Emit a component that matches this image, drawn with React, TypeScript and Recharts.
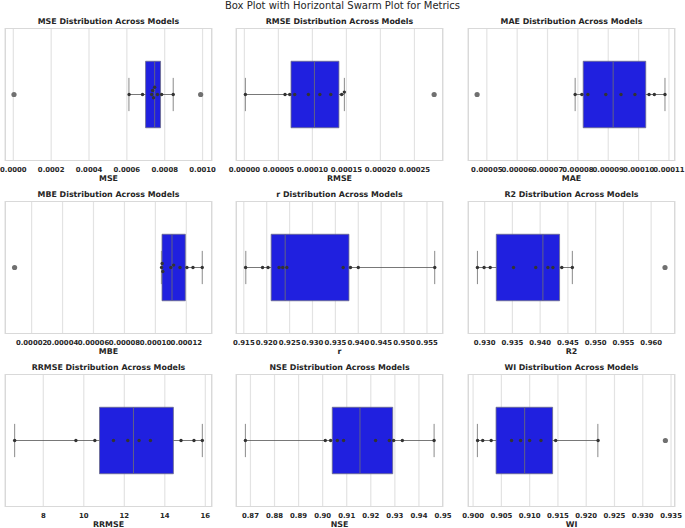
import { ComposedChart, Scatter, XAxis, YAxis, CartesianGrid, ReferenceArea, ReferenceLine } from 'recharts';

const metrics = ['MSE', 'RMSE', 'MAE', 'MBE', 'r', 'R2', 'RRMSE', 'NSE', 'WI'];

const domains: [number, number][] = [
  [-0.000044, 0.00105],
  [-0.0000123, 0.000292],
  [0.0000438, 0.000112],
  [0.0000028, 0.0001366],
  [0.9133, 0.9585],
  [0.927, 0.9643],
  [6.11, 16.33],
  [0.864, 0.95],
  [0.8991, 0.9357],
];

const tickValues: number[][] = [
  [0, 0.0002, 0.0004, 0.0006, 0.0008, 0.001],
  [0, 0.00005, 0.0001, 0.00015, 0.0002, 0.00025],
  [0.00005, 0.00006, 0.00007, 0.00008, 0.00009, 0.0001, 0.00011],
  [0.00002, 0.00004, 0.00006, 0.00008, 0.0001, 0.00012],
  [0.915, 0.92, 0.925, 0.93, 0.935, 0.94, 0.945, 0.95, 0.955],
  [0.93, 0.935, 0.94, 0.945, 0.95, 0.955, 0.96],
  [8, 10, 12, 14, 16],
  [0.87, 0.88, 0.89, 0.9, 0.91, 0.92, 0.93, 0.94, 0.95],
  [0.9, 0.905, 0.91, 0.915, 0.92, 0.925, 0.93, 0.935],
];

const tickDecimals = [4, 5, 5, 5, 3, 3, 0, 2, 3];

// box statistics
const q1 = [0.000699, 0.0000686, 0.00008176, 0.0001043, 0.92098, 0.9321, 10.776, 0.904, 0.90406];
const medians = [0.000747, 0.000103, 0.00009162, 0.00011075, 0.92404, 0.9405, 12.452, 0.9155, 0.90912];
const q3 = [0.000778, 0.000139, 0.00010236, 0.00011935, 0.93796, 0.9435, 14.423, 0.9291, 0.91406];
const whiskerLow = [0.000611, 0.0000015, 0.0000791, 0.0001039, 0.91544, 0.9287, 6.587, 0.8679, 0.90076];
const whiskerHigh = [0.000845, 0.000147, 0.0001087, 0.0001303, 0.95669, 0.9458, 15.852, 0.9463, 0.92206];

const mseValues = [0.000612, 0.000683, 0.000731, 0.000736, 0.000741, 0.000747, 0.000762, 0.000784, 0.000845];
const rmseValues = [0.0000015, 0.0000598, 0.0000667, 0.000074, 0.0000941, 0.000111, 0.000127, 0.000143, 0.000147];
const maeValues = [0.0000791, 0.0000813, 0.0000833, 0.0000892, 0.0000942, 0.0000988, 0.00010345, 0.0001052, 0.0001087];
const mbeValues = [0.000104, 0.0001044, 0.0001048, 0.00011, 0.0001118, 0.0001159, 0.0001204, 0.0001243, 0.0001303];
const rValues = [0.9154, 0.9191, 0.9203, 0.9227, 0.9235, 0.9244, 0.9367, 0.9383, 0.94, 0.9567];
const r2Values = [0.9287, 0.9299, 0.931, 0.9352, 0.9392, 0.9414, 0.9423, 0.9439, 0.9458];
const rrmseValues = [6.587, 9.61, 10.546, 11.466, 12.172, 12.73, 13.29, 14.8, 15.44, 15.852];
const nseValues = [0.8679, 0.9011, 0.9033, 0.9061, 0.9087, 0.922, 0.9277, 0.9295, 0.9331, 0.9463];
const wiValues = [0.9008, 0.9017, 0.9032, 0.9068, 0.9084, 0.91, 0.912, 0.9146, 0.9221];

const pointValues = [mseValues, rmseValues, maeValues, mbeValues, rValues, r2Values, rrmseValues, nseValues, wiValues];

const outliers: number[][] = [[0.0000035, 0.00099], [0.000279], [0.0000468], [0.000009], [], [0.9625], [], [], [0.934]];

const FONT = '"DejaVu Sans", sans-serif';
const colLeft = [5, 236, 468];
const rowTop = [28, 201, 374];
const FRAME_W = 207;
const FRAME_H = 133;
const PAD = 14;
const AXIS_H = 24;
const DOT_R = 1.7;

// simple beeswarm: nudge overlapping points up/down in pixel space
function swarm(values: number[], domain: [number, number]) {
  const pxPerUnit = FRAME_W / (domain[1] - domain[0]);
  const placed: { px: number; py: number }[] = [];
  const sorted = [...values].sort((a, b) => a - b);
  return sorted.map((v) => {
    const px = (v - domain[0]) * pxPerUnit;
    let py = 0;
    for (let k = 0; k < 40; k++) {
      const cand = k === 0 ? 0 : (k % 2 ? 1 : -1) * Math.ceil(k / 2) * 0.8;
      const ok = placed.every((p) => Math.hypot(p.px - px, p.py - cand) >= DOT_R * 2.1);
      if (ok) {
        py = cand;
        break;
      }
    }
    placed.push({ px, py });
    return { x: v, y: py / (FRAME_H / 2) };
  });
}

const Dot = (props: any) => <circle cx={props.cx} cy={props.cy} r={DOT_R} fill="#333333" />;
const Flier = (props: any) => <circle cx={props.cx} cy={props.cy} r={2.6} fill="#707070" />;

function Panel({ i }: { i: number }) {
  const left = colLeft[i % 3];
  const top = rowTop[Math.floor(i / 3)];
  const domain = domains[i];
  const pts = swarm(pointValues[i], domain);
  const fl = outliers[i].map((v) => ({ x: v, y: 0 }));
  return (
    <>
      <div
        style={{
          position: 'absolute',
          left,
          top: top - 12.5,
          width: FRAME_W,
          height: 12,
          lineHeight: '12px',
          textAlign: 'center',
          fontFamily: FONT,
          fontWeight: 'bold',
          fontSize: 7.9,
          color: '#262626',
          whiteSpace: 'nowrap',
        }}
      >
        {metrics[i]} Distribution Across Models
      </div>
      <div style={{ position: 'absolute', left: left - PAD, top }}>
        <ComposedChart
          width={FRAME_W + PAD * 2}
          height={FRAME_H + AXIS_H}
          margin={{ top: 0, right: PAD, bottom: 0, left: PAD }}
        >
          <CartesianGrid vertical horizontal={false} stroke="#e3e3e3" strokeWidth={1.2} />
          <XAxis
            type="number"
            dataKey="x"
            domain={domain}
            allowDataOverflow
            ticks={tickValues[i]}
            interval={0}
            tickFormatter={(v: number) => v.toFixed(tickDecimals[i])}
            tickLine={false}
            axisLine={false}
            tickSize={0}
            tickMargin={6}
            height={AXIS_H}
            tick={{ fontSize: 6.9, fontWeight: 'bold', fill: '#262626', fontFamily: FONT }}
          />
          <YAxis type="number" dataKey="y" domain={[-1, 1]} hide />
          <ReferenceLine
            segment={[{ x: whiskerLow[i], y: 0 }, { x: q1[i], y: 0 }]}
            stroke="#555555"
            strokeWidth={0.8}
          />
          <ReferenceLine
            segment={[{ x: q3[i], y: 0 }, { x: whiskerHigh[i], y: 0 }]}
            stroke="#555555"
            strokeWidth={0.8}
          />
          <ReferenceLine
            segment={[{ x: whiskerLow[i], y: -0.25 }, { x: whiskerLow[i], y: 0.25 }]}
            stroke="#8a8a8a"
            strokeWidth={1}
          />
          <ReferenceLine
            segment={[{ x: whiskerHigh[i], y: -0.25 }, { x: whiskerHigh[i], y: 0.25 }]}
            stroke="#8a8a8a"
            strokeWidth={1}
          />
          <ReferenceArea
            x1={q1[i]}
            x2={q3[i]}
            y1={-0.5}
            y2={0.5}
            fill="#2020DF"
            fillOpacity={1}
            stroke="#6a6a8a"
            strokeWidth={0.8}
          />
          <ReferenceLine
            segment={[{ x: medians[i], y: -0.5 }, { x: medians[i], y: 0.5 }]}
            stroke="#6a6a7a"
            strokeWidth={0.9}
          />
          <Scatter data={pts} shape={Dot} isAnimationActive={false} />
          <Scatter data={fl} shape={Flier} isAnimationActive={false} />
        </ComposedChart>
      </div>
      <div
        style={{
          position: 'absolute',
          left,
          top,
          width: FRAME_W,
          height: FRAME_H,
          border: '1px solid #d9d9d9',
          boxSizing: 'border-box',
          pointerEvents: 'none',
        }}
      />
      <div
        style={{
          position: 'absolute',
          left,
          top: top + FRAME_H + 12,
          width: FRAME_W,
          height: 12,
          lineHeight: '12px',
          textAlign: 'center',
          fontFamily: FONT,
          fontWeight: 'bold',
          fontSize: 7.9,
          color: '#262626',
        }}
      >
        {metrics[i]}
      </div>
    </>
  );
}

export default function App() {
  return (
    <div style={{ position: 'absolute', left: 0, top: 0, width: 685, height: 528, background: '#ffffff' }}>
      <div
        style={{
          position: 'absolute',
          left: 0,
          top: 0,
          width: 685,
          height: 11,
          lineHeight: '11px',
          textAlign: 'center',
          fontFamily: FONT,
          fontSize: 10,
          color: '#262626',
        }}
      >
        Box Plot with Horizontal Swarm Plot for Metrics
      </div>
      {metrics.map((_, i) => (
        <Panel key={i} i={i} />
      ))}
    </div>
  );
}
